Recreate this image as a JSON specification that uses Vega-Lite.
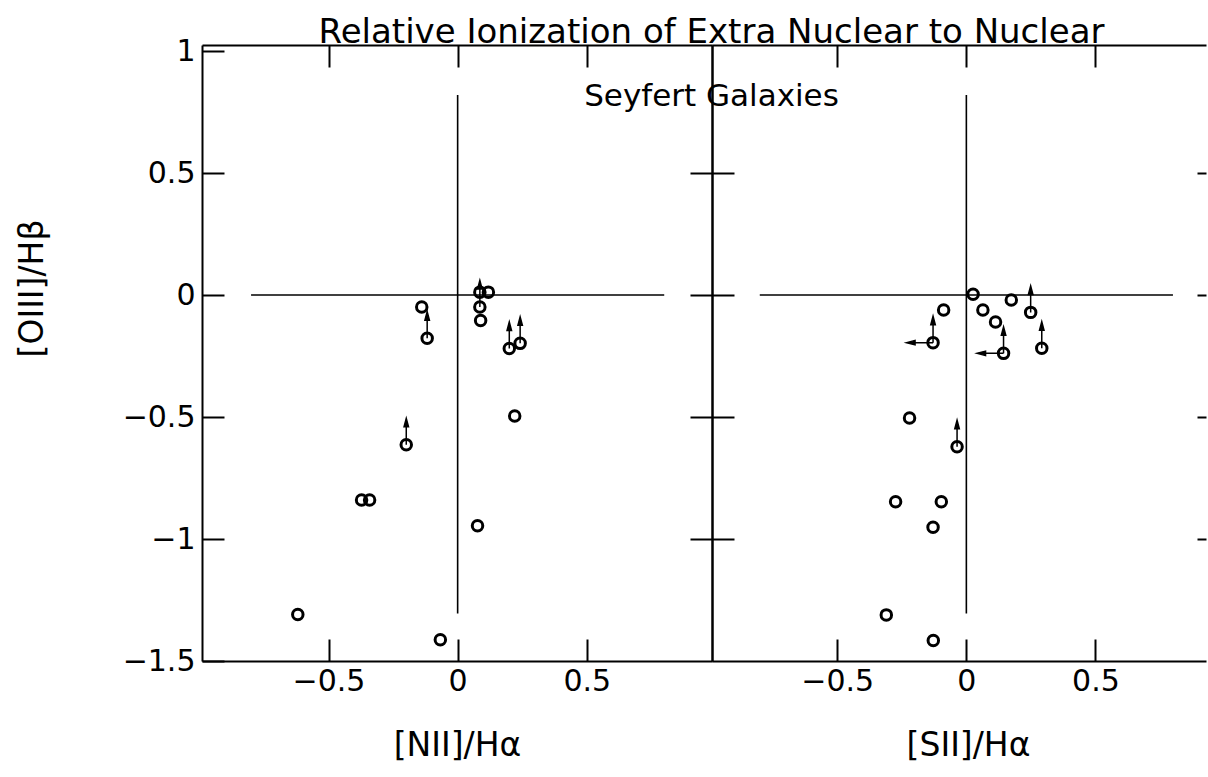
{
  "$schema": "https://vega.github.io/schema/vega-lite/v6.json",
  "background": "white",
  "padding": {"left": 16, "top": 16, "right": 0, "bottom": 0},
  "title": {
    "text": "Relative Ionization of Extra Nuclear to Nuclear",
    "subtitle": "Seyfert Galaxies",
    "font": "DejaVu Sans",
    "fontSize": 34,
    "fontWeight": "normal",
    "color": "black",
    "subtitleFont": "DejaVu Sans",
    "subtitleFontSize": 31,
    "subtitleColor": "black",
    "subtitlePadding": 32,
    "offset": -76,
    "anchor": "middle",
    "dx": 100
  },
  "datasets": {
    "n2": [
      {"nii_ha": -0.139, "oiii_hb": -0.049, "up": false},
      {"nii_ha": -0.118, "oiii_hb": -0.177, "up": true},
      {"nii_ha": 0.086, "oiii_hb": 0.012, "up": false},
      {"nii_ha": 0.119, "oiii_hb": 0.012, "up": false},
      {"nii_ha": 0.086, "oiii_hb": -0.049, "up": true},
      {"nii_ha": 0.089, "oiii_hb": -0.104, "up": false},
      {"nii_ha": 0.200, "oiii_hb": -0.219, "up": true},
      {"nii_ha": 0.242, "oiii_hb": -0.198, "up": true},
      {"nii_ha": 0.221, "oiii_hb": -0.496, "up": false},
      {"nii_ha": -0.199, "oiii_hb": -0.614, "up": true},
      {"nii_ha": -0.372, "oiii_hb": -0.840, "up": false},
      {"nii_ha": -0.341, "oiii_hb": -0.840, "up": false},
      {"nii_ha": 0.077, "oiii_hb": -0.946, "up": false},
      {"nii_ha": -0.619, "oiii_hb": -1.309, "up": false},
      {"nii_ha": -0.067, "oiii_hb": -1.413, "up": false}
    ],
    "s2": [
      {"sii_ha": 0.026, "oiii_hb": 0.003, "up": false, "left": false},
      {"sii_ha": 0.174, "oiii_hb": -0.020, "up": false, "left": false},
      {"sii_ha": -0.088, "oiii_hb": -0.061, "up": false, "left": false},
      {"sii_ha": 0.064, "oiii_hb": -0.061, "up": false, "left": false},
      {"sii_ha": 0.113, "oiii_hb": -0.110, "up": false, "left": false},
      {"sii_ha": -0.129, "oiii_hb": -0.195, "up": true, "left": true},
      {"sii_ha": 0.144, "oiii_hb": -0.239, "up": true, "left": true},
      {"sii_ha": 0.249, "oiii_hb": -0.071, "up": true, "left": false},
      {"sii_ha": 0.292, "oiii_hb": -0.218, "up": true, "left": false},
      {"sii_ha": -0.220, "oiii_hb": -0.504, "up": false, "left": false},
      {"sii_ha": -0.036, "oiii_hb": -0.622, "up": true, "left": false},
      {"sii_ha": -0.274, "oiii_hb": -0.847, "up": false, "left": false},
      {"sii_ha": -0.097, "oiii_hb": -0.847, "up": false, "left": false},
      {"sii_ha": -0.129, "oiii_hb": -0.952, "up": false, "left": false},
      {"sii_ha": -0.310, "oiii_hb": -1.311, "up": false, "left": false},
      {"sii_ha": -0.128, "oiii_hb": -1.416, "up": false, "left": false}
    ]
  },
  "spacing": 0,
  "bounds": "flush",
  "hconcat": [
    {
      "width": 510,
      "height": 616,
      "data": {"name": "n2"},
      "layer": [
        {
          "data": {"values": [{}]},
          "mark": {"type": "rule", "color": "black", "strokeWidth": 1.6},
          "encoding": {
            "x": {"datum": -0.8, "type": "quantitative", "scale": {"domain": [-0.99, 0.985], "nice": false, "zero": false},
                  "axis": {"orient": "top", "values": [-0.5, 0, 0.5], "offset": -22, "domain": false, "labels": false, "title": null}},
            "x2": {"datum": 0.8},
            "y": {"datum": 0, "type": "quantitative", "scale": {"domain": [-1.5, 1.025], "nice": false, "zero": false},
                  "axis": {"orient": "right", "values": [-1, -0.5, 0, 0.5], "offset": -22, "domain": false, "labels": false, "title": null}}
          }
        },
        {
          "data": {"values": [{}]},
          "mark": {"type": "rule", "color": "black", "strokeWidth": 1.6},
          "encoding": {
            "x": {"datum": 0, "type": "quantitative",
                  "axis": {"orient": "bottom", "ticks": false, "labels": false, "title": null}},
            "y": {"datum": -1.305, "type": "quantitative",
                  "axis": {"orient": "left", "ticks": false, "labels": false, "title": null}},
            "y2": {"datum": 0.82}
          }
        },
        {
          "mark": {"type": "point", "shape": "circle", "filled": false, "stroke": "black", "strokeWidth": 3, "size": 110, "opacity": 1},
          "encoding": {
            "x": {"field": "nii_ha", "type": "quantitative", "scale": {"domain": [-0.99, 0.985], "nice": false, "zero": false},
                  "axis": {"orient": "bottom", "values": [-0.5, 0, 0.5], "format": "~g", "offset": -22, "domain": false, "labelPadding": 5, "title": "[NII]/Hα", "titleY": 116, "titleBaseline": "alphabetic"}},
            "y": {"field": "oiii_hb", "type": "quantitative", "scale": {"domain": [-1.5, 1.025], "nice": false, "zero": false},
                  "axis": {"orient": "left", "values": [-1.5, -1, -0.5, 0, 0.5, 1], "format": "~g", "offset": -22, "domain": false, "labelPadding": 7, "title": "[OIII]/Hβ", "titleX": -182, "titleY": 243, "titleBaseline": "alphabetic", "titleAngle": 270}}
          }
        },
        {
          "transform": [{"filter": "datum.up"}],
          "mark": {"type": "point", "shape": "M0,0L0,-5.2M-0.45,-3.6L0,-5.3L0.45,-3.6Z", "filled": true, "fill": "black", "stroke": "black", "strokeWidth": 1.5, "size": 100, "opacity": 1},
          "encoding": {
            "x": {"field": "nii_ha", "type": "quantitative",
                  "axis": {"orient": "top", "ticks": false, "labels": false, "title": null}},
            "y": {"field": "oiii_hb", "type": "quantitative",
                  "axis": {"orient": "right", "ticks": false, "labels": false, "title": null}}
          }
        }
      ],
      "resolve": {"axis": {"x": "independent", "y": "independent"}}
    },
    {
      "width": 494,
      "height": 616,
      "data": {"name": "s2"},
      "layer": [
        {
          "data": {"values": [{}]},
          "mark": {"type": "rule", "color": "black", "strokeWidth": 1.6},
          "encoding": {
            "x": {"datum": -0.8, "type": "quantitative", "scale": {"domain": [-0.985, 0.928], "nice": false, "zero": false},
                  "axis": {"orient": "top", "values": [-0.5, 0, 0.5], "offset": -22, "domain": false, "labels": false, "title": null}},
            "x2": {"datum": 0.8},
            "y": {"datum": 0, "type": "quantitative", "scale": {"domain": [-1.5, 1.025], "nice": false, "zero": false},
                  "axis": {"orient": "right", "values": [-1, -0.5, 0, 0.5], "offset": -9, "tickSize": 9, "domain": false, "labels": false, "title": null}}
          }
        },
        {
          "data": {"values": [{}]},
          "mark": {"type": "rule", "color": "black", "strokeWidth": 1.6},
          "encoding": {
            "x": {"datum": 0, "type": "quantitative",
                  "axis": {"orient": "bottom", "ticks": false, "labels": false, "title": null}},
            "y": {"datum": -1.305, "type": "quantitative",
                  "axis": {"orient": "left", "ticks": false, "labels": false, "title": null}},
            "y2": {"datum": 0.82}
          }
        },
        {
          "mark": {"type": "point", "shape": "circle", "filled": false, "stroke": "black", "strokeWidth": 3, "size": 110, "opacity": 1},
          "encoding": {
            "x": {"field": "sii_ha", "type": "quantitative", "scale": {"domain": [-0.985, 0.928], "nice": false, "zero": false},
                  "axis": {"orient": "bottom", "values": [-0.5, 0, 0.5], "format": "~g", "offset": -22, "domain": false, "labelPadding": 5, "title": "[SII]/Hα", "titleX": 256, "titleY": 116, "titleBaseline": "alphabetic"}},
            "y": {"field": "oiii_hb", "type": "quantitative", "scale": {"domain": [-1.5, 1.025], "nice": false, "zero": false},
                  "axis": {"orient": "left", "values": [-1, -0.5, 0, 0.5], "offset": -22, "domain": false, "labels": false, "title": null}}
          }
        },
        {
          "transform": [{"filter": "datum.up"}],
          "mark": {"type": "point", "shape": "M0,0L0,-5.2M-0.45,-3.6L0,-5.3L0.45,-3.6Z", "filled": true, "fill": "black", "stroke": "black", "strokeWidth": 1.5, "size": 100, "opacity": 1},
          "encoding": {
            "x": {"field": "sii_ha", "type": "quantitative",
                  "axis": {"orient": "top", "ticks": false, "labels": false, "title": null}},
            "y": {"field": "oiii_hb", "type": "quantitative", "axis": null}
          }
        },
        {
          "transform": [{"filter": "datum.left"}],
          "mark": {"type": "point", "shape": "M0,0L-5.2,0M-3.6,-0.45L-5.3,0L-3.6,0.45Z", "filled": true, "fill": "black", "stroke": "black", "strokeWidth": 1.5, "size": 100, "opacity": 1},
          "encoding": {
            "x": {"field": "sii_ha", "type": "quantitative", "axis": null},
            "y": {"field": "oiii_hb", "type": "quantitative", "axis": null}
          }
        }
      ],
      "resolve": {"axis": {"x": "independent", "y": "independent"}}
    }
  ],
  "config": {
    "view": {"stroke": null},
    "axis": {
      "grid": false,
      "domainColor": "black",
      "domainWidth": 2,
      "tickColor": "black",
      "tickWidth": 2,
      "tickSize": 22,
      "labelFont": "DejaVu Sans",
      "labelFontSize": 30,
      "labelColor": "black",
      "titleFont": "DejaVu Sans",
      "titleFontSize": 33,
      "titleFontWeight": "normal",
      "titleColor": "black"
    }
  }
}
